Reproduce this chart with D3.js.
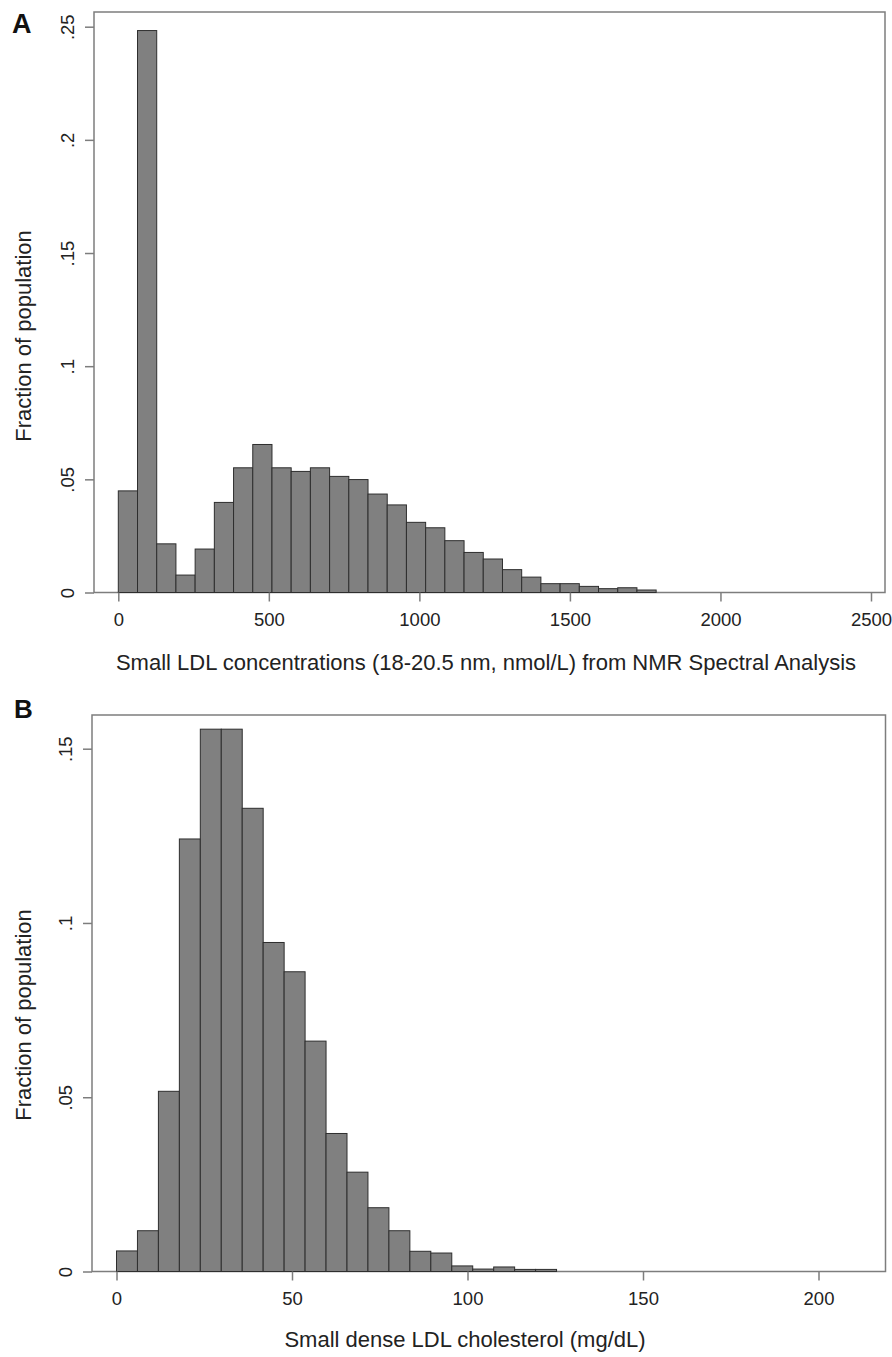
<!DOCTYPE html>
<html>
<head>
<meta charset="utf-8">
<script src="https://cdn.jsdelivr.net/npm/d3@7"></script>
<style>
  body { margin: 0; background: #fff; }
  text { font-family: "Liberation Sans", Arial, sans-serif; fill: #222; }
</style>
</head>
<body>
<div id="chart"></div>
<script>
// histogram data (fraction of population per bin)

// panel A: small LDL particle concentration, nmol/L
var binStartA = 0;
var binWidthA = 63.8;
var fracA = [0.0449, 0.2483, 0.0215, 0.0077, 0.0192, 0.0398, 0.0551, 0.0654,
  0.0551, 0.0535, 0.0551, 0.0513, 0.0499, 0.0435, 0.0387, 0.0310, 0.0286,
  0.0229, 0.0177, 0.0148, 0.0101, 0.0068, 0.0039, 0.0039, 0.0027, 0.0017,
  0.0021, 0.0011];
var xTicksA = [0, 500, 1000, 1500, 2000, 2500];
var yTicksA = [0, 0.05, 0.1, 0.15, 0.2, 0.25];

// panel B: small dense LDL cholesterol, mg/dL
var binStartB = 0;
var binWidthB = 5.97;
var fracB = [0.0059, 0.0117, 0.0517, 0.1241, 0.1556, 0.1556, 0.1329, 0.0944,
  0.0860, 0.0661, 0.0396, 0.0285, 0.0183, 0.0117, 0.0058, 0.0053, 0.0016,
  0.0007, 0.0013, 0.0006, 0.0006];
var xTicksB = [0, 50, 100, 150, 200];
var yTicksB = [0, 0.05, 0.1, 0.15];

var yTitle = "Fraction of population";
var xTitleA = "Small LDL concentrations (18-20.5 nm, nmol/L) from NMR Spectral Analysis";
var xTitleB = "Small dense LDL cholesterol (mg/dL)";

var svgWidth = 892;
var svgHeight = 1357;

var svg = d3.select("#chart")
  .append("svg")
  .attr("width", svgWidth)
  .attr("height", svgHeight);

// stata style: "0", ".05", ".1" ...
function stataFmt(d) {
  return d === 0 ? "0" : String(+d.toFixed(3)).replace(/^0/, "");
}

function drawPanel(p) {
  var g = svg.append("g");

  // bins -> rect data
  var bins = p.frac.map(function(v, i) {
    return { x0: p.binStart + i * p.binWidth, x1: p.binStart + (i + 1) * p.binWidth, v: v };
  });

  var x = d3.scaleLinear().domain(p.xDomain).range(p.xRange);
  var y = d3.scaleLinear().domain(p.yDomain).range(p.yRange);

  // frame
  g.append("rect")
    .attr("x", p.box.left)
    .attr("y", p.box.top)
    .attr("width", p.box.right - p.box.left)
    .attr("height", p.box.bottom - p.box.top)
    .attr("fill", "none")
    .attr("stroke", "#7d7d7d")
    .attr("stroke-width", 1.5);

  // bars
  g.selectAll(".bar")
    .data(bins)
    .enter()
    .append("rect")
    .attr("class", "bar")
    .attr("x", d => x(d.x0))
    .attr("y", d => y(d.v))
    .attr("width", d => x(d.x1) - x(d.x0))
    .attr("height", d => y(0) - y(d.v))
    .attr("fill", "#808080")
    .attr("stroke", "#2e2e2e")
    .attr("stroke-width", 1);

  // x axis
  var xAxis = g.append("g")
    .attr("transform", `translate(0, ${p.box.bottom})`)
    .call(d3.axisBottom(x).tickValues(p.xTicks).tickSize(9).tickPadding(6).tickFormat(d3.format("d")));
  xAxis.select(".domain").remove();
  xAxis.selectAll("line").attr("stroke", "#7d7d7d").attr("stroke-width", 1.5);
  xAxis.selectAll("text")
    .attr("y", p.xLabelBase - p.box.bottom)
    .attr("dy", 0)
    .attr("font-size", "18.5px")
    .style("fill", "#222");

  // y axis, labels rotated like stata
  var yAxis = g.append("g")
    .attr("transform", `translate(${p.box.left}, 0)`)
    .call(d3.axisLeft(y).tickValues(p.yTicks).tickSize(9).tickFormat(stataFmt));
  yAxis.select(".domain").remove();
  yAxis.selectAll("line").attr("stroke", "#7d7d7d").attr("stroke-width", 1.5);
  yAxis.selectAll("text")
    .attr("x", 0)
    .attr("dy", 0)
    .attr("text-anchor", "middle")
    .attr("transform", `translate(${p.yLabelBase - p.box.left}, 0) rotate(-90)`)
    .attr("font-size", "18.5px")
    .style("fill", "#222");

  // titles
  g.append("text")
    .attr("x", p.xTitlePos[0])
    .attr("y", p.xTitlePos[1])
    .attr("text-anchor", "middle")
    .attr("font-size", "22px")
    .text(p.xTitle);

  g.append("text")
    .attr("transform", `translate(${p.yTitlePos[0]}, ${p.yTitlePos[1]}) rotate(-90)`)
    .attr("text-anchor", "middle")
    .attr("font-size", "22px")
    .text(yTitle);

  // panel letter
  g.append("text")
    .attr("x", p.letterPos[0])
    .attr("y", p.letterPos[1])
    .attr("font-size", p.letterSize)
    .attr("font-weight", 700)
    .style("fill", "#111")
    .text(p.letter);
}

drawPanel({
  letter: "A", letterPos: [12, 33], letterSize: "27px",
  frac: fracA, binStart: binStartA, binWidth: binWidthA,
  xDomain: [0, 2500], xRange: [118.3, 871],
  yDomain: [0, 0.25], yRange: [592.5, 26.7],
  xTicks: xTicksA, yTicks: yTicksA,
  box: { left: 94, right: 885, top: 12, bottom: 592.5 },
  xLabelBase: 626, yLabelBase: 74,
  xTitle: xTitleA, xTitlePos: [486, 670],
  yTitlePos: [31, 336]
});

drawPanel({
  letter: "B", letterPos: [14, 718], letterSize: "26px",
  frac: fracB, binStart: binStartB, binWidth: binWidthB,
  xDomain: [0, 200], xRange: [116.5, 818.5],
  yDomain: [0, 0.15], yRange: [1271.5, 748.7],
  xTicks: xTicksB, yTicks: yTicksB,
  box: { left: 92, right: 885.5, top: 715, bottom: 1271.5 },
  xLabelBase: 1305, yLabelBase: 72,
  xTitle: xTitleB, xTitlePos: [465, 1347],
  yTitlePos: [31, 1015]
});
</script>
</body>
</html>
